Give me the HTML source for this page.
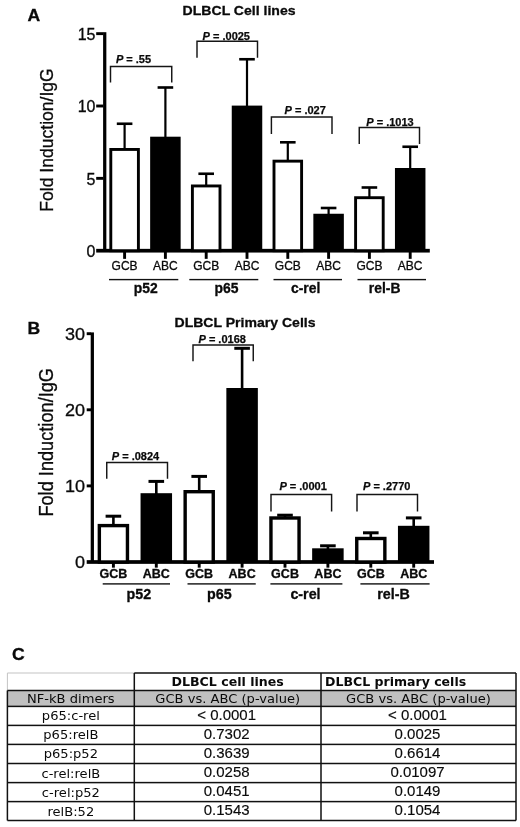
<!DOCTYPE html>
<html lang="en"><head><meta charset="utf-8"><title>DLBCL NF-kB figure</title>
<style>html,body{margin:0;padding:0;background:#fff}svg{display:block}text{white-space:pre}</style>
</head><body>
<svg width="520" height="827" viewBox="0 0 520 827">
<rect x="0.00" y="0.00" width="520.00" height="827.00" fill="#fff" />
<text x="27.60" y="20.60" font-size="16.3" text-anchor="start" font-weight="bold" font-style="normal" font-family="'Liberation Sans', sans-serif" fill="#0a0a0a"  textLength="12.7" lengthAdjust="spacingAndGlyphs" stroke="#0a0a0a" stroke-width="0.3">A</text>
<text x="27.60" y="333.50" font-size="16.3" text-anchor="start" font-weight="bold" font-style="normal" font-family="'Liberation Sans', sans-serif" fill="#0a0a0a"  textLength="12.7" lengthAdjust="spacingAndGlyphs" stroke="#0a0a0a" stroke-width="0.3">B</text>
<text x="12.00" y="660.20" font-size="16.3" text-anchor="start" font-weight="bold" font-style="normal" font-family="'Liberation Sans', sans-serif" fill="#0a0a0a"  textLength="12.7" lengthAdjust="spacingAndGlyphs" stroke="#0a0a0a" stroke-width="0.3">C</text>
<text x="182.60" y="15.20" font-size="13.6" text-anchor="start" font-weight="bold" font-style="normal" font-family="'Liberation Sans', sans-serif" fill="#0a0a0a"  textLength="113" lengthAdjust="spacingAndGlyphs" stroke="#0a0a0a" stroke-width="0.3">DLBCL Cell lines</text>
<text x="174.50" y="327.40" font-size="13.6" text-anchor="start" font-weight="bold" font-style="normal" font-family="'Liberation Sans', sans-serif" fill="#0a0a0a"  textLength="141" lengthAdjust="spacingAndGlyphs" stroke="#0a0a0a" stroke-width="0.3">DLBCL Primary Cells</text>
<rect x="103.10" y="32.20" width="3.25" height="218.50" fill="#000" />
<rect x="96.20" y="248.85" width="333.60" height="3.70" fill="#000" />
<text transform="translate(95.50 257.00) scale(1.02 1)" font-size="15.7" text-anchor="end" font-family="'Liberation Sans', sans-serif" fill="#0a0a0a" stroke="#0a0a0a" stroke-width="0.3">0</text>
<rect x="96.20" y="176.90" width="7.20" height="2.90" fill="#000" />
<text transform="translate(95.50 184.65) scale(1.02 1)" font-size="15.7" text-anchor="end" font-family="'Liberation Sans', sans-serif" fill="#0a0a0a" stroke="#0a0a0a" stroke-width="0.3">5</text>
<rect x="96.20" y="104.55" width="7.20" height="2.90" fill="#000" />
<text transform="translate(95.50 112.30) scale(1.02 1)" font-size="15.7" text-anchor="end" font-family="'Liberation Sans', sans-serif" fill="#0a0a0a" stroke="#0a0a0a" stroke-width="0.3">10</text>
<rect x="96.20" y="32.20" width="7.20" height="2.90" fill="#000" />
<text transform="translate(95.50 39.95) scale(1.02 1)" font-size="15.7" text-anchor="end" font-family="'Liberation Sans', sans-serif" fill="#0a0a0a" stroke="#0a0a0a" stroke-width="0.3">15</text>
<rect x="123.50" y="123.75" width="2.20" height="25.25" fill="#000" />
<rect x="116.80" y="122.45" width="15.60" height="2.60" fill="#000" />
<rect x="110.80" y="149.45" width="27.60" height="101.25" fill="#fff" stroke="#000" stroke-width="2.9"/>
<rect x="123.15" y="251.70" width="2.90" height="7.15" fill="#000" />
<text transform="translate(124.60 269.70) scale(1.0 1)" font-size="12" text-anchor="middle" font-weight="normal" font-family="'Liberation Sans', sans-serif" fill="#0a0a0a" stroke="#0a0a0a" stroke-width="0.3">GCB</text>
<rect x="164.30" y="87.50" width="2.20" height="50.20" fill="#000" />
<rect x="157.60" y="86.20" width="15.60" height="2.60" fill="#000" />
<rect x="150.15" y="136.70" width="30.50" height="114.00" fill="#000" />
<rect x="163.95" y="251.70" width="2.90" height="7.15" fill="#000" />
<text transform="translate(165.40 269.70) scale(1.0 1)" font-size="12" text-anchor="middle" font-weight="normal" font-family="'Liberation Sans', sans-serif" fill="#0a0a0a" stroke="#0a0a0a" stroke-width="0.3">ABC</text>
<rect x="205.10" y="173.75" width="2.20" height="11.75" fill="#000" />
<rect x="198.40" y="172.45" width="15.60" height="2.60" fill="#000" />
<rect x="192.40" y="185.95" width="27.60" height="64.75" fill="#fff" stroke="#000" stroke-width="2.9"/>
<rect x="204.75" y="251.70" width="2.90" height="7.15" fill="#000" />
<text transform="translate(206.20 269.70) scale(1.0 1)" font-size="12" text-anchor="middle" font-weight="normal" font-family="'Liberation Sans', sans-serif" fill="#0a0a0a" stroke="#0a0a0a" stroke-width="0.3">GCB</text>
<rect x="245.90" y="59.25" width="2.20" height="47.35" fill="#000" />
<rect x="239.20" y="57.95" width="15.60" height="2.60" fill="#000" />
<rect x="231.75" y="105.60" width="30.50" height="145.10" fill="#000" />
<rect x="245.55" y="251.70" width="2.90" height="7.15" fill="#000" />
<text transform="translate(247.00 269.70) scale(1.0 1)" font-size="12" text-anchor="middle" font-weight="normal" font-family="'Liberation Sans', sans-serif" fill="#0a0a0a" stroke="#0a0a0a" stroke-width="0.3">ABC</text>
<rect x="286.70" y="142.30" width="2.20" height="18.40" fill="#000" />
<rect x="280.00" y="141.00" width="15.60" height="2.60" fill="#000" />
<rect x="274.00" y="161.15" width="27.60" height="89.55" fill="#fff" stroke="#000" stroke-width="2.9"/>
<rect x="286.35" y="251.70" width="2.90" height="7.15" fill="#000" />
<text transform="translate(287.80 269.70) scale(1.0 1)" font-size="12" text-anchor="middle" font-weight="normal" font-family="'Liberation Sans', sans-serif" fill="#0a0a0a" stroke="#0a0a0a" stroke-width="0.3">GCB</text>
<rect x="327.50" y="208.00" width="2.20" height="6.75" fill="#000" />
<rect x="320.80" y="206.70" width="15.60" height="2.60" fill="#000" />
<rect x="313.35" y="213.75" width="30.50" height="36.95" fill="#000" />
<rect x="327.15" y="251.70" width="2.90" height="7.15" fill="#000" />
<text transform="translate(328.60 269.70) scale(1.0 1)" font-size="12" text-anchor="middle" font-weight="normal" font-family="'Liberation Sans', sans-serif" fill="#0a0a0a" stroke="#0a0a0a" stroke-width="0.3">ABC</text>
<rect x="368.30" y="187.50" width="2.20" height="9.75" fill="#000" />
<rect x="361.60" y="186.20" width="15.60" height="2.60" fill="#000" />
<rect x="355.60" y="197.70" width="27.60" height="53.00" fill="#fff" stroke="#000" stroke-width="2.9"/>
<rect x="367.95" y="251.70" width="2.90" height="7.15" fill="#000" />
<text transform="translate(369.40 269.70) scale(1.0 1)" font-size="12" text-anchor="middle" font-weight="normal" font-family="'Liberation Sans', sans-serif" fill="#0a0a0a" stroke="#0a0a0a" stroke-width="0.3">GCB</text>
<rect x="409.10" y="146.75" width="2.20" height="22.25" fill="#000" />
<rect x="402.40" y="145.45" width="15.60" height="2.60" fill="#000" />
<rect x="394.95" y="168.00" width="30.50" height="82.70" fill="#000" />
<rect x="408.75" y="251.70" width="2.90" height="7.15" fill="#000" />
<text transform="translate(410.20 269.70) scale(1.0 1)" font-size="12" text-anchor="middle" font-weight="normal" font-family="'Liberation Sans', sans-serif" fill="#0a0a0a" stroke="#0a0a0a" stroke-width="0.3">ABC</text>
<rect x="109.00" y="278.90" width="69.30" height="1.40" fill="#111" />
<rect x="189.30" y="278.90" width="69.00" height="1.40" fill="#111" />
<rect x="273.50" y="278.90" width="68.50" height="1.40" fill="#111" />
<rect x="357.50" y="278.90" width="68.50" height="1.40" fill="#111" />
<text x="145.70" y="292.60" font-size="13.9" text-anchor="middle" font-weight="bold" font-style="normal" font-family="'Liberation Sans', sans-serif" fill="#0a0a0a"  stroke="#0a0a0a" stroke-width="0.3">p52</text>
<text x="226.50" y="292.60" font-size="13.9" text-anchor="middle" font-weight="bold" font-style="normal" font-family="'Liberation Sans', sans-serif" fill="#0a0a0a"  stroke="#0a0a0a" stroke-width="0.3">p65</text>
<text x="305.60" y="292.60" font-size="13.9" text-anchor="middle" font-weight="bold" font-style="normal" font-family="'Liberation Sans', sans-serif" fill="#0a0a0a"  stroke="#0a0a0a" stroke-width="0.3">c-rel</text>
<text x="384.60" y="292.60" font-size="13.9" text-anchor="middle" font-weight="bold" font-style="normal" font-family="'Liberation Sans', sans-serif" fill="#0a0a0a"  stroke="#0a0a0a" stroke-width="0.3">rel-B</text>
<path d="M110.50 82.50 V66.40 H171.75 V82.50" fill="none" stroke="#151515" stroke-width="1.45"/>
<text x="133.50" y="63.30" font-size="11" text-anchor="middle" font-weight="bold" font-family="'Liberation Sans', sans-serif" fill="#0a0a0a" stroke="#0a0a0a" stroke-width="0.25"><tspan font-style="italic">P</tspan> = .55</text>
<path d="M197.00 57.80 V41.30 H257.50 V57.80" fill="none" stroke="#151515" stroke-width="1.45"/>
<text x="226.30" y="40.00" font-size="11" text-anchor="middle" font-weight="bold" font-family="'Liberation Sans', sans-serif" fill="#0a0a0a" stroke="#0a0a0a" stroke-width="0.25"><tspan font-style="italic">P</tspan> = .0025</text>
<path d="M271.40 134.00 V116.90 H332.00 V134.00" fill="none" stroke="#151515" stroke-width="1.45"/>
<text x="305.20" y="114.30" font-size="11" text-anchor="middle" font-weight="bold" font-family="'Liberation Sans', sans-serif" fill="#0a0a0a" stroke="#0a0a0a" stroke-width="0.25"><tspan font-style="italic">P</tspan> = .027</text>
<path d="M359.25 143.90 V127.50 H419.50 V143.90" fill="none" stroke="#151515" stroke-width="1.45"/>
<text x="390.00" y="125.70" font-size="11" text-anchor="middle" font-weight="bold" font-family="'Liberation Sans', sans-serif" fill="#0a0a0a" stroke="#0a0a0a" stroke-width="0.25"><tspan font-style="italic">P</tspan> = .1013</text>
<text transform="translate(52.60 211.75) rotate(-90)" font-size="19.0" textLength="143.5" lengthAdjust="spacingAndGlyphs" font-family="'Liberation Sans', sans-serif" fill="#0a0a0a" stroke="#0a0a0a" stroke-width="0.3">Fold Induction/IgG</text>
<rect x="90.70" y="332.40" width="3.25" height="229.60" fill="#000" />
<rect x="86.70" y="560.15" width="347.30" height="3.70" fill="#000" />
<text transform="translate(85.00 567.80) scale(1.05 1)" font-size="17.2" text-anchor="end" font-family="'Liberation Sans', sans-serif" fill="#0a0a0a" stroke="#0a0a0a" stroke-width="0.3">0</text>
<rect x="86.70" y="484.45" width="4.30" height="2.90" fill="#000" />
<text transform="translate(85.00 491.70) scale(1.05 1)" font-size="17.2" text-anchor="end" font-family="'Liberation Sans', sans-serif" fill="#0a0a0a" stroke="#0a0a0a" stroke-width="0.3">10</text>
<rect x="86.70" y="408.35" width="4.30" height="2.90" fill="#000" />
<text transform="translate(85.00 415.60) scale(1.05 1)" font-size="17.2" text-anchor="end" font-family="'Liberation Sans', sans-serif" fill="#0a0a0a" stroke="#0a0a0a" stroke-width="0.3">20</text>
<rect x="86.70" y="332.25" width="4.30" height="2.90" fill="#000" />
<text transform="translate(85.00 339.50) scale(1.05 1)" font-size="17.2" text-anchor="end" font-family="'Liberation Sans', sans-serif" fill="#0a0a0a" stroke="#0a0a0a" stroke-width="0.3">30</text>
<rect x="112.10" y="516.20" width="2.60" height="8.70" fill="#000" />
<rect x="105.60" y="514.70" width="15.60" height="3.00" fill="#000" />
<rect x="99.35" y="525.60" width="28.10" height="36.40" fill="#fff" stroke="#000" stroke-width="3.4"/>
<rect x="111.95" y="563.00" width="2.90" height="4.65" fill="#000" />
<text transform="translate(113.40 578.40) scale(1.045 1)" font-size="12" text-anchor="middle" font-weight="bold" font-family="'Liberation Sans', sans-serif" fill="#0a0a0a" stroke="#0a0a0a" stroke-width="0.3">GCB</text>
<rect x="155.00" y="481.40" width="2.60" height="12.80" fill="#000" />
<rect x="148.50" y="479.90" width="15.60" height="3.00" fill="#000" />
<rect x="140.55" y="493.20" width="31.50" height="68.80" fill="#000" />
<rect x="154.85" y="563.00" width="2.90" height="4.65" fill="#000" />
<text transform="translate(156.30 578.40) scale(1.045 1)" font-size="12" text-anchor="middle" font-weight="bold" font-family="'Liberation Sans', sans-serif" fill="#0a0a0a" stroke="#0a0a0a" stroke-width="0.3">ABC</text>
<rect x="197.90" y="476.40" width="2.60" height="14.60" fill="#000" />
<rect x="191.40" y="474.90" width="15.60" height="3.00" fill="#000" />
<rect x="185.15" y="491.70" width="28.10" height="70.30" fill="#fff" stroke="#000" stroke-width="3.4"/>
<rect x="197.75" y="563.00" width="2.90" height="4.65" fill="#000" />
<text transform="translate(199.20 578.40) scale(1.045 1)" font-size="12" text-anchor="middle" font-weight="bold" font-family="'Liberation Sans', sans-serif" fill="#0a0a0a" stroke="#0a0a0a" stroke-width="0.3">GCB</text>
<rect x="240.80" y="348.30" width="2.60" height="40.70" fill="#000" />
<rect x="234.30" y="346.80" width="15.60" height="3.00" fill="#000" />
<rect x="226.35" y="388.00" width="31.50" height="174.00" fill="#000" />
<rect x="240.65" y="563.00" width="2.90" height="4.65" fill="#000" />
<text transform="translate(242.10 578.40) scale(1.045 1)" font-size="12" text-anchor="middle" font-weight="bold" font-family="'Liberation Sans', sans-serif" fill="#0a0a0a" stroke="#0a0a0a" stroke-width="0.3">ABC</text>
<rect x="283.70" y="515.20" width="2.60" height="2.10" fill="#000" />
<rect x="277.20" y="513.70" width="15.60" height="3.00" fill="#000" />
<rect x="270.95" y="518.00" width="28.10" height="44.00" fill="#fff" stroke="#000" stroke-width="3.4"/>
<rect x="283.55" y="563.00" width="2.90" height="4.65" fill="#000" />
<text transform="translate(285.00 578.40) scale(1.045 1)" font-size="12" text-anchor="middle" font-weight="bold" font-family="'Liberation Sans', sans-serif" fill="#0a0a0a" stroke="#0a0a0a" stroke-width="0.3">GCB</text>
<rect x="326.60" y="545.80" width="2.60" height="3.50" fill="#000" />
<rect x="320.10" y="544.30" width="15.60" height="3.00" fill="#000" />
<rect x="312.15" y="548.30" width="31.50" height="13.70" fill="#000" />
<rect x="326.45" y="563.00" width="2.90" height="4.65" fill="#000" />
<text transform="translate(327.90 578.40) scale(1.045 1)" font-size="12" text-anchor="middle" font-weight="bold" font-family="'Liberation Sans', sans-serif" fill="#0a0a0a" stroke="#0a0a0a" stroke-width="0.3">ABC</text>
<rect x="369.50" y="532.80" width="2.60" height="5.00" fill="#000" />
<rect x="363.00" y="531.30" width="15.60" height="3.00" fill="#000" />
<rect x="356.75" y="538.50" width="28.10" height="23.50" fill="#fff" stroke="#000" stroke-width="3.4"/>
<rect x="369.35" y="563.00" width="2.90" height="4.65" fill="#000" />
<text transform="translate(370.80 578.40) scale(1.045 1)" font-size="12" text-anchor="middle" font-weight="bold" font-family="'Liberation Sans', sans-serif" fill="#0a0a0a" stroke="#0a0a0a" stroke-width="0.3">GCB</text>
<rect x="412.40" y="517.90" width="2.60" height="8.90" fill="#000" />
<rect x="405.90" y="516.40" width="15.60" height="3.00" fill="#000" />
<rect x="397.95" y="525.80" width="31.50" height="36.20" fill="#000" />
<rect x="412.25" y="563.00" width="2.90" height="4.65" fill="#000" />
<text transform="translate(413.70 578.40) scale(1.045 1)" font-size="12" text-anchor="middle" font-weight="bold" font-family="'Liberation Sans', sans-serif" fill="#0a0a0a" stroke="#0a0a0a" stroke-width="0.3">ABC</text>
<rect x="102.70" y="583.20" width="67.30" height="1.40" fill="#111" />
<rect x="187.50" y="583.20" width="68.25" height="1.40" fill="#111" />
<rect x="270.40" y="583.20" width="72.00" height="1.40" fill="#111" />
<rect x="360.40" y="583.20" width="69.20" height="1.40" fill="#111" />
<text x="138.80" y="598.80" font-size="14.3" text-anchor="middle" font-weight="bold" font-style="normal" font-family="'Liberation Sans', sans-serif" fill="#0a0a0a"  stroke="#0a0a0a" stroke-width="0.3">p52</text>
<text x="219.40" y="598.80" font-size="14.3" text-anchor="middle" font-weight="bold" font-style="normal" font-family="'Liberation Sans', sans-serif" fill="#0a0a0a"  stroke="#0a0a0a" stroke-width="0.3">p65</text>
<text x="305.50" y="598.80" font-size="14.3" text-anchor="middle" font-weight="bold" font-style="normal" font-family="'Liberation Sans', sans-serif" fill="#0a0a0a"  stroke="#0a0a0a" stroke-width="0.3">c-rel</text>
<text x="393.60" y="598.80" font-size="14.3" text-anchor="middle" font-weight="bold" font-style="normal" font-family="'Liberation Sans', sans-serif" fill="#0a0a0a"  stroke="#0a0a0a" stroke-width="0.3">rel-B</text>
<path d="M106.75 478.75 V462.50 H167.50 V478.75" fill="none" stroke="#151515" stroke-width="1.45"/>
<text x="135.50" y="460.00" font-size="11" text-anchor="middle" font-weight="bold" font-family="'Liberation Sans', sans-serif" fill="#0a0a0a" stroke="#0a0a0a" stroke-width="0.25"><tspan font-style="italic">P</tspan> = .0824</text>
<path d="M193.00 361.30 V345.00 H253.25 V361.30" fill="none" stroke="#151515" stroke-width="1.45"/>
<text x="222.20" y="342.50" font-size="11" text-anchor="middle" font-weight="bold" font-family="'Liberation Sans', sans-serif" fill="#0a0a0a" stroke="#0a0a0a" stroke-width="0.25"><tspan font-style="italic">P</tspan> = .0168</text>
<path d="M271.00 511.60 V494.40 H331.60 V511.60" fill="none" stroke="#151515" stroke-width="1.45"/>
<text x="303.10" y="490.30" font-size="11" text-anchor="middle" font-weight="bold" font-family="'Liberation Sans', sans-serif" fill="#0a0a0a" stroke="#0a0a0a" stroke-width="0.25"><tspan font-style="italic">P</tspan> = .0001</text>
<path d="M357.00 511.60 V494.40 H417.50 V511.60" fill="none" stroke="#151515" stroke-width="1.45"/>
<text x="386.70" y="490.30" font-size="11" text-anchor="middle" font-weight="bold" font-family="'Liberation Sans', sans-serif" fill="#0a0a0a" stroke="#0a0a0a" stroke-width="0.25"><tspan font-style="italic">P</tspan> = .2770</text>
<text transform="translate(52.60 516.60) rotate(-90)" font-size="19.6" textLength="148.6" lengthAdjust="spacingAndGlyphs" font-family="'Liberation Sans', sans-serif" fill="#0a0a0a" stroke="#0a0a0a" stroke-width="0.3">Fold Induction/IgG</text>
<rect x="7.40" y="690.50" width="508.60" height="15.90" fill="#c0c0c0" />
<rect x="7.40" y="672.50" width="126.90" height="1.00" fill="#c4c4c4" />
<rect x="6.90" y="673.00" width="1.00" height="17.50" fill="#c4c4c4" />
<rect x="134.30" y="672.25" width="381.70" height="1.50" fill="#111" />
<rect x="7.40" y="689.75" width="508.60" height="1.50" fill="#111" />
<rect x="7.40" y="705.65" width="508.60" height="1.50" fill="#111" />
<rect x="7.40" y="724.65" width="508.60" height="1.50" fill="#111" />
<rect x="7.40" y="743.65" width="508.60" height="1.50" fill="#111" />
<rect x="7.40" y="762.75" width="508.60" height="1.50" fill="#111" />
<rect x="7.40" y="781.85" width="508.60" height="1.50" fill="#111" />
<rect x="7.40" y="800.85" width="508.60" height="1.50" fill="#111" />
<rect x="7.40" y="819.75" width="508.60" height="1.50" fill="#111" />
<rect x="6.65" y="690.50" width="1.50" height="130.00" fill="#111" />
<rect x="133.55" y="673.00" width="1.50" height="147.50" fill="#111" />
<rect x="320.25" y="673.00" width="1.50" height="147.50" fill="#111" />
<rect x="515.25" y="673.00" width="1.50" height="147.50" fill="#111" />
<text transform="translate(227.65 686.20) scale(1.05 1)" font-size="12" text-anchor="middle" font-weight="bold" font-family="'DejaVu Sans', 'Liberation Sans', sans-serif" fill="#0a0a0a">DLBCL cell lines</text>
<text transform="translate(325.00 686.20) scale(1.045 1)" font-size="12" text-anchor="start" font-weight="bold" font-family="'DejaVu Sans', 'Liberation Sans', sans-serif" fill="#0a0a0a">DLBCL primary cells</text>
<text transform="translate(70.85 702.60) scale(1.09 1)" font-size="12" text-anchor="middle" font-weight="normal" font-family="'DejaVu Sans', 'Liberation Sans', sans-serif" fill="#0a0a0a">NF-kB dimers</text>
<text transform="translate(227.65 702.60) scale(1.09 1)" font-size="12" text-anchor="middle" font-weight="normal" font-family="'DejaVu Sans', 'Liberation Sans', sans-serif" fill="#0a0a0a">GCB vs. ABC (p-value)</text>
<text transform="translate(418.50 702.60) scale(1.09 1)" font-size="12" text-anchor="middle" font-weight="normal" font-family="'DejaVu Sans', 'Liberation Sans', sans-serif" fill="#0a0a0a">GCB vs. ABC (p-value)</text>
<text transform="translate(70.85 720.40) scale(1.09 1)" font-size="12" text-anchor="middle" font-weight="normal" font-family="'DejaVu Sans', 'Liberation Sans', sans-serif" fill="#0a0a0a">p65:c-rel</text>
<text x="226.65" y="720.20" font-size="15" text-anchor="middle" font-weight="normal" font-style="normal" font-family="'Liberation Sans', sans-serif" fill="#0a0a0a"  stroke="#0a0a0a" stroke-width="0.15">&lt; 0.0001</text>
<text x="417.50" y="720.20" font-size="15" text-anchor="middle" font-weight="normal" font-style="normal" font-family="'Liberation Sans', sans-serif" fill="#0a0a0a"  stroke="#0a0a0a" stroke-width="0.15">&lt; 0.0001</text>
<text transform="translate(70.85 739.40) scale(1.09 1)" font-size="12" text-anchor="middle" font-weight="normal" font-family="'DejaVu Sans', 'Liberation Sans', sans-serif" fill="#0a0a0a">p65:relB</text>
<text x="226.65" y="739.20" font-size="15" text-anchor="middle" font-weight="normal" font-style="normal" font-family="'Liberation Sans', sans-serif" fill="#0a0a0a"  stroke="#0a0a0a" stroke-width="0.15">0.7302</text>
<text x="417.50" y="739.20" font-size="15" text-anchor="middle" font-weight="normal" font-style="normal" font-family="'Liberation Sans', sans-serif" fill="#0a0a0a"  stroke="#0a0a0a" stroke-width="0.15">0.0025</text>
<text transform="translate(70.85 758.40) scale(1.09 1)" font-size="12" text-anchor="middle" font-weight="normal" font-family="'DejaVu Sans', 'Liberation Sans', sans-serif" fill="#0a0a0a">p65:p52</text>
<text x="226.65" y="758.20" font-size="15" text-anchor="middle" font-weight="normal" font-style="normal" font-family="'Liberation Sans', sans-serif" fill="#0a0a0a"  stroke="#0a0a0a" stroke-width="0.15">0.3639</text>
<text x="417.50" y="758.20" font-size="15" text-anchor="middle" font-weight="normal" font-style="normal" font-family="'Liberation Sans', sans-serif" fill="#0a0a0a"  stroke="#0a0a0a" stroke-width="0.15">0.6614</text>
<text transform="translate(70.85 777.50) scale(1.09 1)" font-size="12" text-anchor="middle" font-weight="normal" font-family="'DejaVu Sans', 'Liberation Sans', sans-serif" fill="#0a0a0a">c-rel:relB</text>
<text x="226.65" y="777.30" font-size="15" text-anchor="middle" font-weight="normal" font-style="normal" font-family="'Liberation Sans', sans-serif" fill="#0a0a0a"  stroke="#0a0a0a" stroke-width="0.15">0.0258</text>
<text x="417.50" y="777.30" font-size="15" text-anchor="middle" font-weight="normal" font-style="normal" font-family="'Liberation Sans', sans-serif" fill="#0a0a0a"  stroke="#0a0a0a" stroke-width="0.15">0.01097</text>
<text transform="translate(70.85 796.60) scale(1.09 1)" font-size="12" text-anchor="middle" font-weight="normal" font-family="'DejaVu Sans', 'Liberation Sans', sans-serif" fill="#0a0a0a">c-rel:p52</text>
<text x="226.65" y="796.40" font-size="15" text-anchor="middle" font-weight="normal" font-style="normal" font-family="'Liberation Sans', sans-serif" fill="#0a0a0a"  stroke="#0a0a0a" stroke-width="0.15">0.0451</text>
<text x="417.50" y="796.40" font-size="15" text-anchor="middle" font-weight="normal" font-style="normal" font-family="'Liberation Sans', sans-serif" fill="#0a0a0a"  stroke="#0a0a0a" stroke-width="0.15">0.0149</text>
<text transform="translate(70.85 815.60) scale(1.09 1)" font-size="12" text-anchor="middle" font-weight="normal" font-family="'DejaVu Sans', 'Liberation Sans', sans-serif" fill="#0a0a0a">relB:52</text>
<text x="226.65" y="815.40" font-size="15" text-anchor="middle" font-weight="normal" font-style="normal" font-family="'Liberation Sans', sans-serif" fill="#0a0a0a"  stroke="#0a0a0a" stroke-width="0.15">0.1543</text>
<text x="417.50" y="815.40" font-size="15" text-anchor="middle" font-weight="normal" font-style="normal" font-family="'Liberation Sans', sans-serif" fill="#0a0a0a"  stroke="#0a0a0a" stroke-width="0.15">0.1054</text>
</svg>
</body></html>
